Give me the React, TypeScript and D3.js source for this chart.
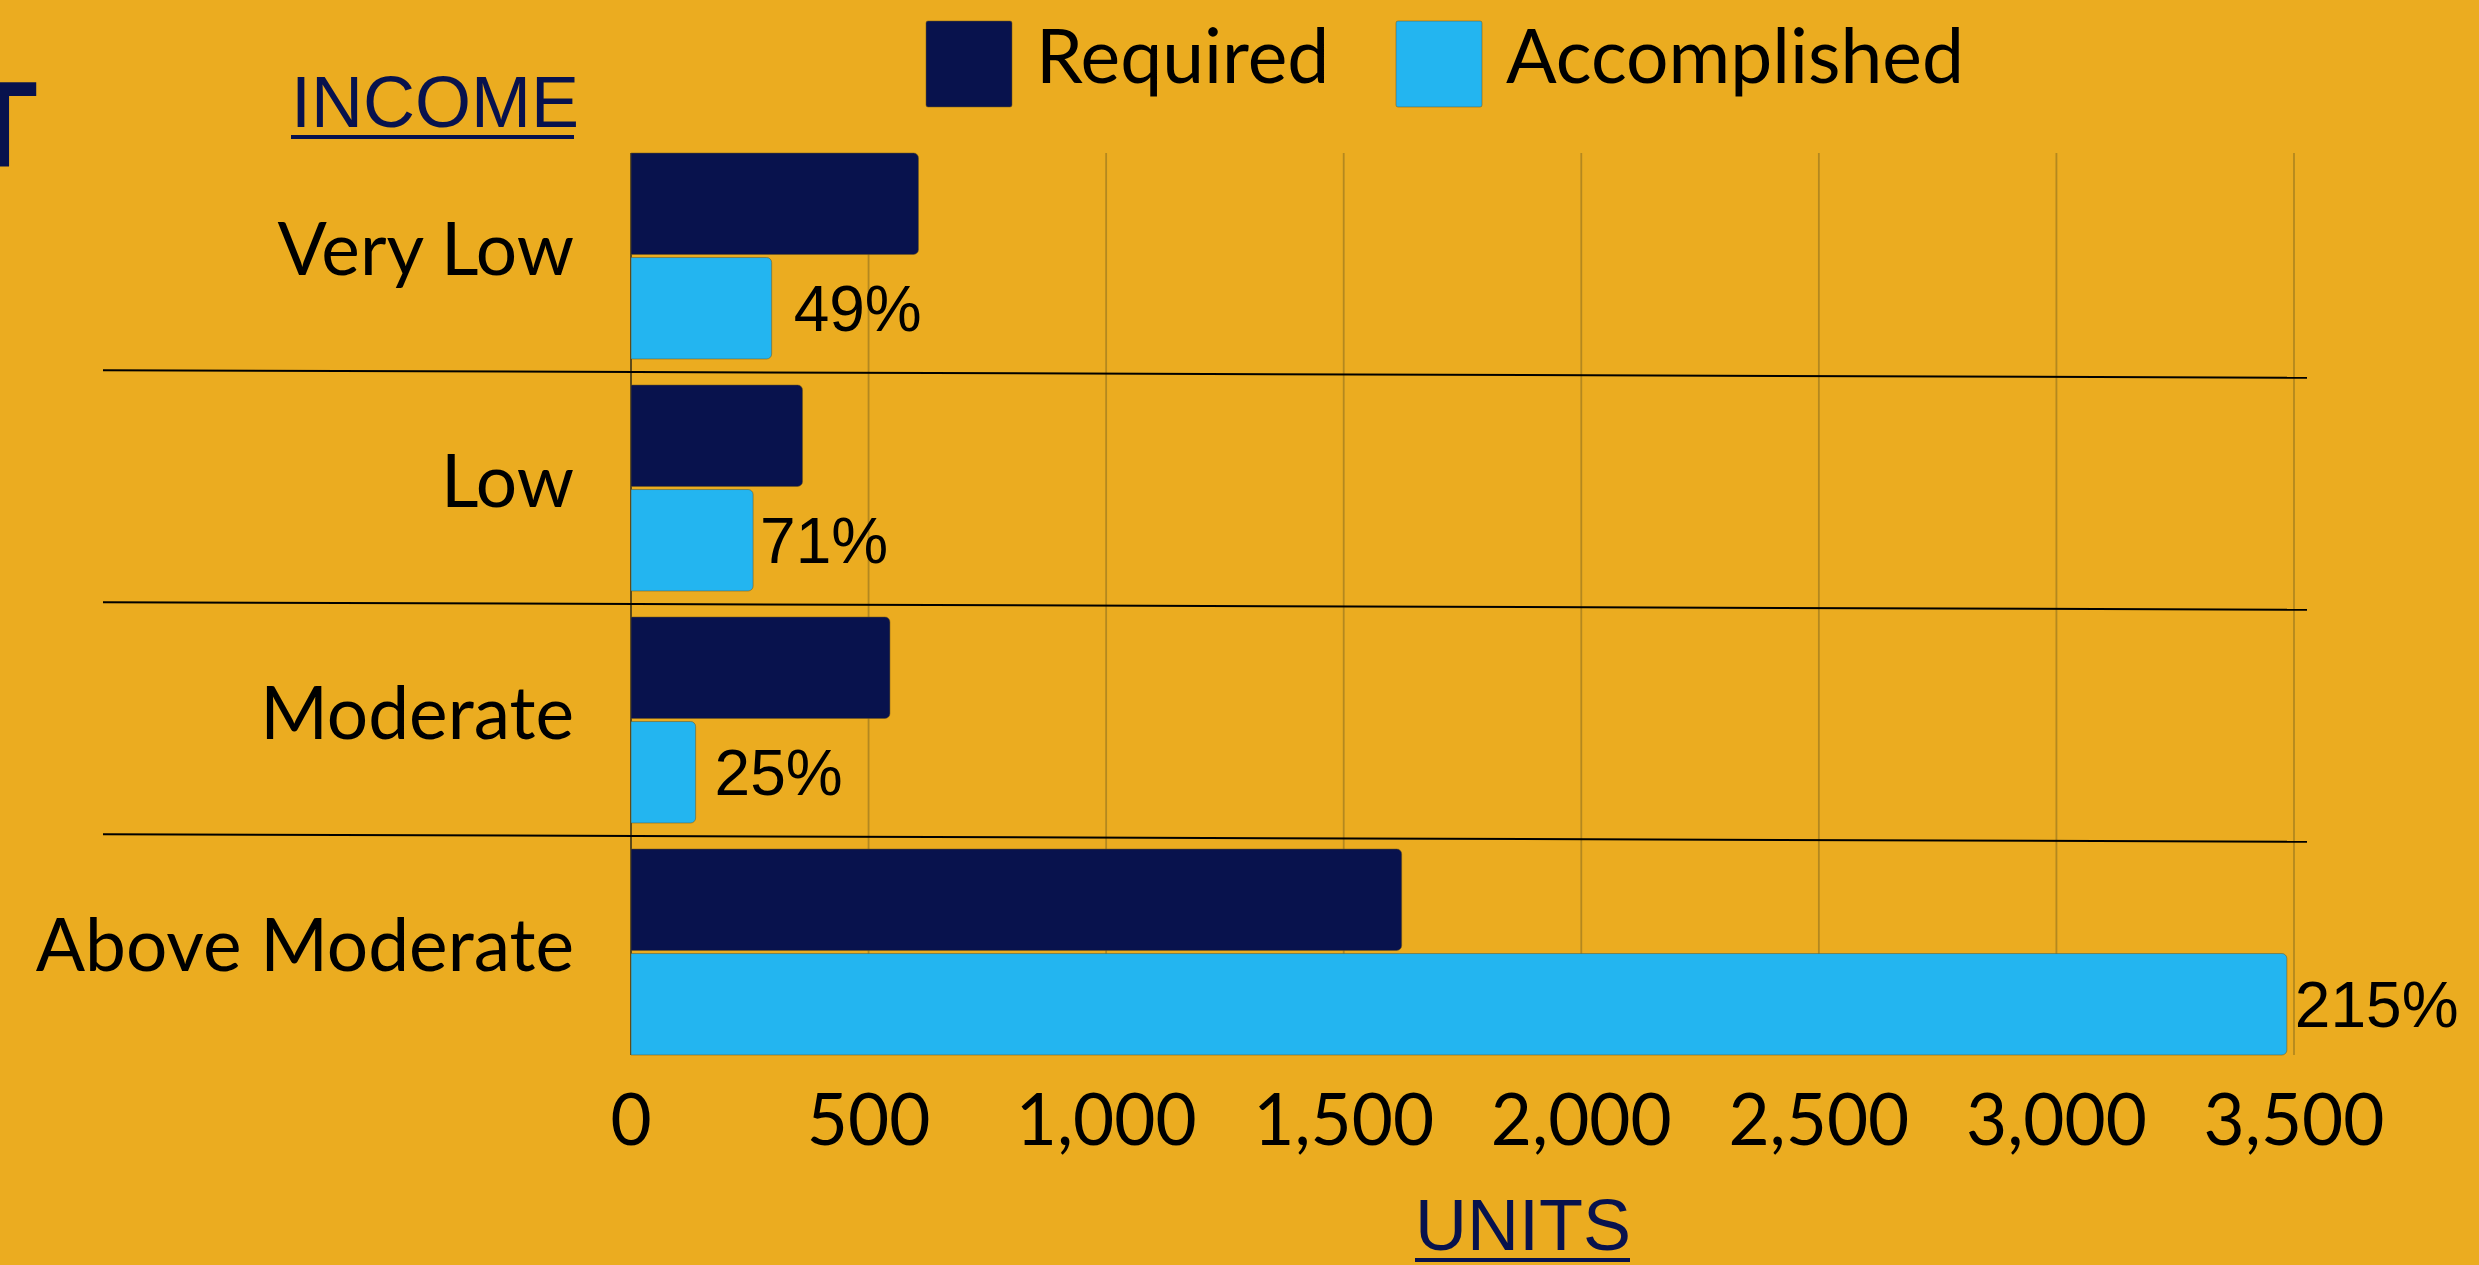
import React from "react";
import * as d3 from "d3";

const categories = ["Very Low", "Low", "Moderate", "Above Moderate"];
const seriesNames = ["Required", "Accomplished"];
const required = [605, 361, 545, 1622];
const accomplished = [296, 257, 136, 3485];
const pctLabels = ["49%", "71%", "25%", "215%"];
const xTicks = [0, 500, 1000, 1500, 2000, 2500, 3000, 3500];

const W = 2479;
const H = 1265;
const BG = "#EBAC20";
const NAVY = "#08124D";
const CYAN = "#23B5F0";
const pctNudge = [22, 7, 19, 8];

function rightRounded(x0: number, y: number, x1: number, h: number, r: number) {
  const w = Math.max(0, x1 - x0);
  const rr = Math.min(r, w / 2, h / 2);
  const p = d3.path();
  p.moveTo(x0, y);
  p.lineTo(x0 + w - rr, y);
  p.arcTo(x0 + w, y, x0 + w, y + rr, rr);
  p.lineTo(x0 + w, y + h - rr);
  p.arcTo(x0 + w, y + h, x0 + w - rr, y + h, rr);
  p.lineTo(x0, y + h);
  p.closePath();
  return p.toString();
}

export default function App() {
  const x = d3.scaleLinear().domain([0, 3500]).range([631, 2294]);
  const y = d3
    .scaleBand<string>()
    .domain(categories)
    .range([153, 1055])
    .paddingInner(26 / 232)
    .paddingOuter(0);
  const ySub = d3
    .scaleBand<string>()
    .domain(seriesNames)
    .range([0, y.bandwidth()])
    .paddingInner(6 / 206);
  const color = d3.scaleOrdinal<string, string>().domain(seriesNames).range([NAVY, CYAN]);
  const fmt = d3.format(",");
  const values = [required, accomplished];
  const step = y.step();
  const slope = 0.0034;
  const sepX1 = 103;
  const sepX2 = 2307;

  return (
    <svg
      width={W}
      height={H}
      style={{ position: "absolute", left: 0, top: 0, display: "block" }}
    >
      <rect x={0} y={0} width={W} height={H} fill={BG} />

      {/* cut-off title letter */}
      <text
        x={-37}
        y={167}
        fontFamily="'Liberation Sans', Arial, sans-serif"
        fontWeight="bold"
        fontSize={122}
        fill={NAVY}
      >
        T
      </text>

      {/* gridlines */}
      {xTicks.map((t) => (
        <line
          key={"g" + t}
          x1={x(t)}
          x2={x(t)}
          y1={y.range()[0]}
          y2={y.range()[1]}
          stroke={t === 0 ? "#5e4a18" : "#b4881f"}
          strokeWidth={t === 0 ? 2 : 1.8}
        />
      ))}

      {/* bars */}
      {categories.map((c, i) =>
        seriesNames.map((s, j) => (
          <path
            key={c + s}
            d={rightRounded(x(0), (y(c) as number) + (ySub(s) as number), x(values[j][i]), ySub.bandwidth(), 5)}
            fill={color(s)}
            stroke="rgba(110,85,25,0.5)"
            strokeWidth={1}
          />
        ))
      )}

      {/* percentage labels */}
      {categories.map((c, i) => (
        <text
          key={"p" + c}
          x={x(accomplished[i]) + pctNudge[i]}
          y={(y(c) as number) + (ySub("Accomplished") as number) + ySub.bandwidth() / 2 + 23}
          fontFamily="'Liberation Sans', Arial, sans-serif"
          fontSize={64}
          fill="#000"
        >
          {pctLabels[i]}
        </text>
      ))}

      {/* separators */}
      {categories.slice(1).map((c) => {
        const mid = (y(c) as number) - (step - y.bandwidth()) / 2;
        const yAt = (xx: number) => mid + slope * (xx - x(0));
        return (
          <line
            key={"s" + c}
            x1={sepX1}
            x2={sepX2}
            y1={yAt(sepX1)}
            y2={yAt(sepX2)}
            stroke="#000"
            strokeWidth={2}
          />
        );
      })}

      {/* category labels */}
      {categories.map((c) => (
        <text
          key={"c" + c}
          x={574}
          y={(y(c) as number) + y.bandwidth() / 2 + 19}
          textAnchor="end"
          fontFamily="Lato, 'Noto Sans', sans-serif"
          fontSize={73}
          fill="#000"
        >
          {c}
        </text>
      ))}

      {/* x tick labels */}
      {xTicks.map((t) => (
        <text
          key={"t" + t}
          x={x(t)}
          y={1145}
          textAnchor="middle"
          fontFamily="Lato, 'Noto Sans', sans-serif"
          fontSize={71}
          fill="#000"
        >
          {fmt(t)}
        </text>
      ))}

      {/* axis titles */}
      <text
        x={291}
        y={127}
        fontFamily="'Liberation Sans', Arial, sans-serif"
        fontSize={72}
        fill={NAVY}
      >
        INCOME
      </text>
      <rect x={291} y={135} width={283} height={4} fill={NAVY} />
      <text
        x={1415}
        y={1250}
        fontFamily="'Liberation Sans', Arial, sans-serif"
        fontSize={72}
        fill={NAVY}
      >
        UNITS
      </text>
      <rect x={1415} y={1258} width={215} height={4} fill={NAVY} />

      {/* legend */}
      {seriesNames.map((s, i) => {
        const sx = [926, 1396][i];
        return (
          <g key={"l" + s}>
            <rect x={sx} y={21} width={86} height={86} rx={2} fill={color(s)} stroke="rgba(110,85,25,0.5)" strokeWidth={1} />
            <text
              x={sx + 110}
              y={83}
              fontFamily="Lato, 'Noto Sans', sans-serif"
              fontSize={75}
              fill="#000"
            >
              {s}
            </text>
          </g>
        );
      })}
    </svg>
  );
}
